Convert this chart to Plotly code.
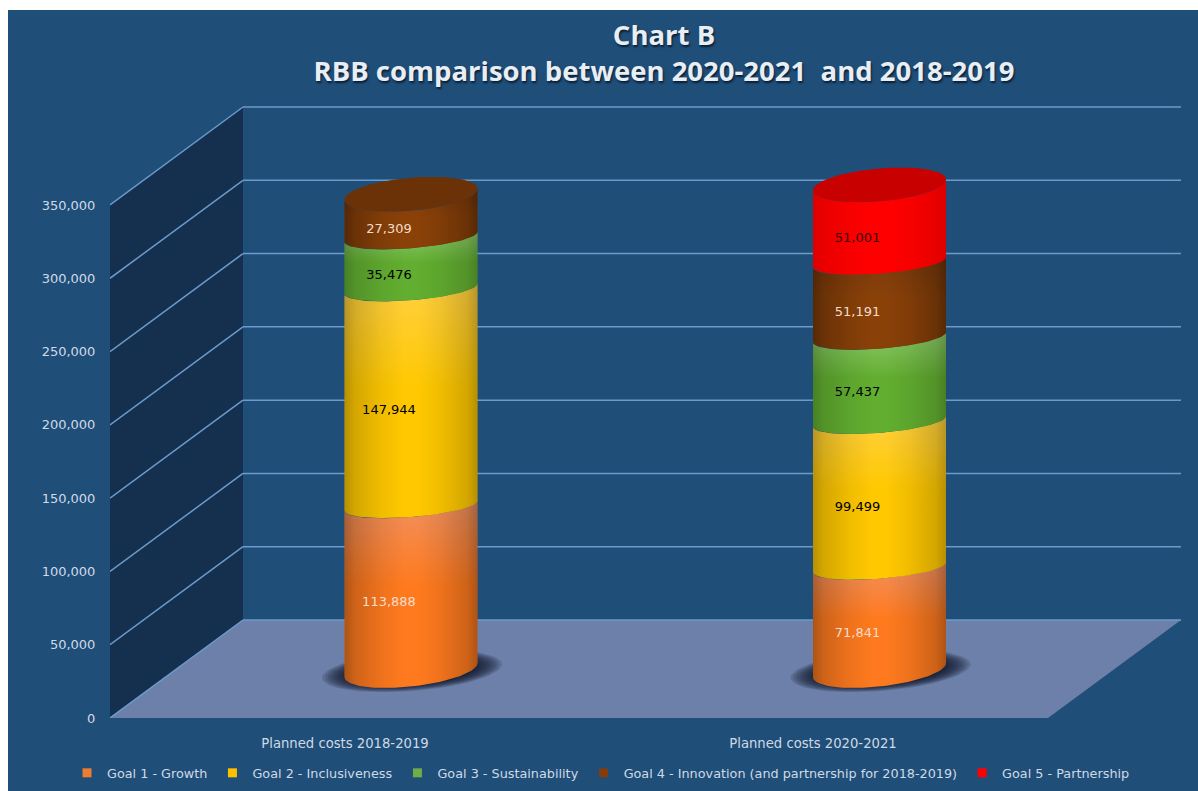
import math
import plotly.graph_objects as go

# ---- data ----
categories = ["Planned costs 2018-2019", "Planned costs 2020-2021"]
goal_names = ["Goal 1 - Growth", "Goal 2 - Inclusiveness", "Goal 3 - Sustainability",
              "Goal 4 - Innovation (and partnership for 2018-2019)", "Goal 5 - Partnership"]
goal1 = [113888, 71841]
goal2 = [147944, 99499]
goal3 = [35476, 57437]
goal4 = [27309, 51191]
goal5 = [None, 51001]
y_ticks = [0, 50000, 100000, 150000, 200000, 250000, 300000, 350000]
series = [goal1, goal2, goal3, goal4, goal5]

# ---- style ----
swatch = ["#ED7D31", "#FFC000", "#70AD47", "#843C0C", "#FF0000"]
grad_bottom = ["#FF7A1E", "#FFC800", "#62AE30", "#8A4108", "#FF0000"]
grad_top = ["#F09060", "#FFD040", "#8AC868", "#7A3A0C", "#FF0000"]
edge_alpha = [0.32, 0.28, 0.26, 0.38, 0.14]
cap_color = ["#C46020", "#D9A400", "#558A35", "#6A3206", "#C80000"]
label_color = ["#F6DDCB", "#000000", "#000000", "#F3DCCB", "#3A0000"]
PANEL = "#1F4E79"; WALL = "#14304E"; FLOOR = "#6C80A9"; GRID = "#6C9ACB"
TXT = "#CFDAE5"; FONT = "DejaVu Sans"

W, H = 1198, 791
ML, MB = 110, 73
PW, PH = W - ML, H - MB    # plot area in pixels
PX = 350000 / 513          # value units per pixel
DX, DY = 133, 98 * PX      # depth of the 3-D box
BOX_W = 938
HALF = 66.5
CENTERS = [301, 769.5]
LABEL_X = [235, 703]

def arc(xc, yc, b, s, n=50, rev=False):
    """front half of a tilted ellipse"""
    xs, ys = [], []
    for k in range(n + 1):
        t = math.pi + math.pi * k / n
        xs.append(xc + HALF * math.cos(t))
        ys.append(yc + (s * math.cos(t) + b * math.sin(t)) * PX)
    return (xs[::-1], ys[::-1]) if rev else (xs, ys)

def ellipse(xc, yc, a, b, s, n=80):
    xs, ys = [], []
    for k in range(n + 1):
        t = 2 * math.pi * k / n
        xs.append(xc + a * math.cos(t))
        ys.append(yc + (s * a / HALF * math.cos(t) + b * math.sin(t)) * PX)
    return xs, ys

def rgba(a):
    return f"rgba(0,0,0,{a})"

fig = go.Figure()

# legend entries
for name, c in zip(goal_names, swatch):
    fig.add_trace(go.Scatter(x=[None], y=[None], mode="markers", name=name,
                             marker=dict(symbol="square", size=9, color=c), hoverinfo="skip"))

BASE_OUT = 48 * PX     # centre of outer ellipses above the zero line
BASE_IN = 45.5 * PX    # centre of inner boundaries above the zero line
for i, xc in enumerate(CENTERS):
    # contact shadow
    for k in range(10):
        xs, ys = ellipse(xc + 1, BASE_OUT - 1 * PX, 90 - 3.0 * k, 20 - 0.7 * k, 5)
        fig.add_trace(go.Scatter(x=xs, y=ys, mode="lines", line_width=0, fill="toself",
                                 fillcolor="rgba(10,18,35,0.16)", showlegend=False, hoverinfo="skip"))
    cum = 0
    present = [g for g in range(5) if series[g][i] is not None]
    for g in present:
        v = series[g][i]
        lo, hi = cum, cum + v
        first, last = g == present[0], g == present[-1]
        x0, y0 = arc(xc, lo + (BASE_OUT if first else BASE_IN), 16.5 if first else 11.5, 7 if first else 5)
        x1, y1 = arc(xc, hi + (BASE_OUT if last else BASE_IN), 16.5 if last else 11.5, 5.5, rev=True)
        px, py = x0 + x1 + x0[:1], y0 + y1 + y0[:1]
        fig.add_trace(go.Scatter(x=px, y=py, mode="lines", line_width=0, fill="toself",
                                 fillgradient=dict(type="vertical",
                                                   colorscale=[[0, grad_bottom[g]], [0.55, grad_bottom[g]], [1, grad_top[g]]]),
                                 showlegend=False, hoverinfo="skip"))
        e = edge_alpha[g]
        fig.add_trace(go.Scatter(x=px, y=py, mode="lines", line_width=0, fill="toself",
                                 fillgradient=dict(type="horizontal",
                                                   colorscale=[[0, rgba(e)], [0.08, rgba(e * 0.6)], [0.28, rgba(e * 0.2)],
                                                               [0.45, rgba(0)], [0.55, rgba(0)], [0.72, rgba(e * 0.2)],
                                                               [0.92, rgba(e * 0.6)], [1, rgba(e)]]),
                                 showlegend=False, hoverinfo="skip"))
        if last:
            xs, ys = ellipse(xc, hi + BASE_OUT, HALF, 16.5, 5.5)
            fig.add_trace(go.Scatter(x=xs, y=ys, mode="lines", line_width=0, fill="toself",
                                     fillcolor=cap_color[g], showlegend=False, hoverinfo="skip"))
        cum = hi
    # value labels
    cum = 0
    for g in present:
        v = series[g][i]
        fig.add_trace(go.Scatter(x=[xc - 22], y=[cum + v / 2 + 32 * PX], mode="text", text=[f"{v:,}"],
                                 textposition="middle center", cliponaxis=False,
                                 textfont=dict(family=FONT, size=13, color=label_color[g]),
                                 showlegend=False, hoverinfo="skip"))
        cum += v

# 3-D box drawn on the value axis
top = y_ticks[-1]
shapes = [
    dict(type="rect", xref="paper", yref="paper", x0=(8 - ML) / PW, x1=1, y0=-MB / PH, y1=1 - 10 / PH,
         fillcolor=PANEL, line_width=0, layer="below"),
    dict(type="path", xref="x", yref="y", layer="below", line_width=0, fillcolor=WALL,
         path=f"M 0 0 L 0 {top} L {DX} {top + DY} L {DX} {DY} Z"),
    dict(type="path", xref="x", yref="y", layer="below", line_width=0, fillcolor=FLOOR,
         path=f"M 0 0 L {DX} {DY} L {DX + BOX_W} {DY} L {BOX_W} 0 Z"),
]
for v in y_ticks:
    for a, b, c, d in [(0, v, DX, v + DY), (DX, v + DY, DX + BOX_W, v + DY)]:
        shapes.append(dict(type="line", xref="x", yref="y", layer="below", x0=a, y0=b, x1=c, y1=d,
                           line=dict(color=GRID, width=1.5)))

fig.update_layout(
    width=W, height=H, autosize=False, paper_bgcolor="white", plot_bgcolor="rgba(0,0,0,0)",
    margin=dict(l=ML, r=0, t=0, b=MB), shapes=shapes, hovermode=False,
    title=dict(text="Chart B<br>RBB comparison between 2020-2021  and 2018-2019",
               x=664 / W, xanchor="center", y=1 - 45 / H, yanchor="top",
               font=dict(family="Open Sans", size=27.5, color="#E8EEF3", weight="bold",
                         shadow="1px 2px 2px #0A1F35")),
    xaxis=dict(range=[0, PW], tickvals=LABEL_X, ticktext=categories, showgrid=False, zeroline=False,
               showline=False, ticks="outside", ticklen=13, tickcolor="rgba(0,0,0,0)",
               tickfont=dict(family=FONT, size=13.2, color=TXT), fixedrange=True),
    yaxis=dict(range=[0, PH * PX], tickvals=y_ticks, tickformat=",", showgrid=False, zeroline=False,
               showline=False, ticks="outside", ticklen=11, tickcolor="rgba(0,0,0,0)",
               tickfont=dict(family=FONT, size=13, color=TXT), fixedrange=True),
    showlegend=True,
    legend=dict(orientation="h", x=(67 - ML) / PW, xanchor="left", y=-(773 - PH) / PH, yanchor="middle",
                bgcolor="rgba(0,0,0,0)", font=dict(family=FONT, size=12.8, color=TXT),
                itemclick=False, itemdoubleclick=False),
)

fig.write_html("out.html", config={"displayModeBar": False}, post_script="document.body.style.margin='0';")
